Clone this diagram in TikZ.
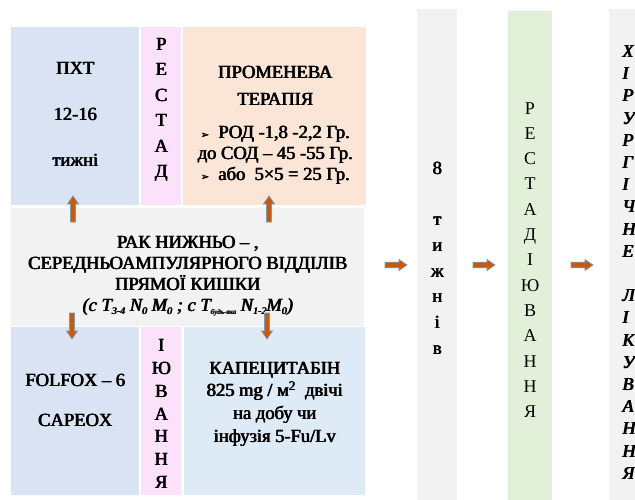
\documentclass[tikz,border=0pt]{standalone}
\usepackage{fontspec}
\setmainfont{Liberation Serif}
\newfontfamily\symfont{DejaVu Sans}
\definecolor{cblue}{HTML}{DAE3F3}
\definecolor{cpink}{HTML}{FCE1FB}
\definecolor{cpeach}{HTML}{FBE5D6}
\definecolor{cgray}{HTML}{F2F2F2}
\definecolor{clblue}{HTML}{DEEBF7}
\definecolor{cgreen}{HTML}{E2F0D9}
\definecolor{corange}{HTML}{C55A11}
\definecolor{cedge}{HTML}{8497B0}
% heavier strokes: the line is set three times with small offsets
\newcommand\bb[1]{\rlap{\hspace{0.8pt}#1}\rlap{\hspace{0.4pt}#1}#1}
\newcommand\bul{{\symfont\fontsize{10}{10}\selectfont ➢}}
\newcommand\sbx[1]{\raisebox{-3pt}{\fontsize{10}{10}\selectfont #1}}
\newcommand\sbxs[1]{\raisebox{-3pt}{\fontsize{7}{7}\selectfont #1}}
\tikzset{
  box/.style={inner sep=0pt, outer sep=0pt, draw=none, anchor=north west},
  tb/.style={inner sep=0pt, align=center, font=\fontsize{18.5}{#1}\selectfont},
  tr/.style={inner sep=0pt, align=center, font=\fontsize{18}{#1}\selectfont},
  harrow/.pic={\path[fill=corange, draw=cedge, line width=0.7pt]
     (0,-2.8)--(14,-2.8)--(14,-5.5)--(22,0)--(14,5.5)--(14,2.8)--(0,2.8)--cycle;},
  varrow/.pic={\path[fill=corange, draw=cedge, line width=0.7pt]
     (0,-2.5)--(18,-2.5)--(18,-5.5)--(26,0)--(18,5.5)--(18,2.5)--(0,2.5)--cycle;}
}
\begin{document}
\begin{tikzpicture}[x=1pt,y=-1pt]
\clip (0,0) rectangle (635,500);
\fill[white] (0,0) rectangle (635,500);
% boxes
\node[box, fill=cblue, minimum width=128pt, minimum height=178pt] (pxt) at (11,27) {};
\node[box, fill=cpink, minimum width=40pt, minimum height=178pt] (rest1) at (141,27) {};
\node[box, fill=cpeach, minimum width=183pt, minimum height=178pt] (ray) at (183,27) {};
\node[box, fill=cgray, minimum width=353pt, minimum height=118pt] (mid) at (11,208) {};
\node[box, fill=cblue, minimum width=128pt, minimum height=168pt] (folf) at (11,327) {};
\node[box, fill=cpink, minimum width=40pt, minimum height=168pt] (rest2) at (141,327) {};
\node[box, fill=clblue, minimum width=181pt, minimum height=168pt] (cap) at (184,327) {};
\node[box, fill=cgray, minimum width=40pt, minimum height=491pt] (weeks) at (417,9) {};
\node[box, fill=cgreen, minimum width=44pt, minimum height=489pt] (stag) at (508,11) {};
\node[box, fill=cgray, minimum width=40pt, minimum height=491pt] (surg) at (609,9) {};
% texts
\node[tb=46] (tpxt) at (75,114) {\bb{ПХТ}\\\bb{12-16}\\\bb{тижні}};
\node[tb=25.5] (trest1) at (161,110) {\bb{Р}\\\bb{Е}\\\bb{С}\\\bb{Т}\\\bb{А}\\\bb{Д}};
\node[tb=21] (tray) at (275,125.5) {\bb{ПРОМЕНЕВА}\\[6pt]\bb{ТЕРАПІЯ}\\[12pt]\bb{\bul\ \ РОД -1,8 -2,2 Гр.}\\\bb{до СОД – 45 -55 Гр.}\\\bb{\bul\ \ або \ 5×5 = 25 Гр.}};
\node[tb=21] (tmid) at (187.5,276) {\bb{РАК НИЖНЬО – ,}\\\bb{СЕРЕДНЬОАМПУЛЯРНОГО ВІДДІЛІВ}\\\bb{ПРЯМОЇ КИШКИ}\\\itshape\bb{(с Т\sbx{3-4} N\sbx{0} M\sbx{0} ; с Т\sbxs{будь-яка} N\sbx{1-2}M\sbx{0})}};
\node[tb=40] (tfolf) at (75,400) {\bb{FOLFOX – 6}\\\bb{CAPEOX}};
\node[tb=22.8] (trest2) at (161,414) {\bb{І}\\\bb{Ю}\\\bb{В}\\\bb{А}\\\bb{Н}\\\bb{Н}\\\bb{Я}};
\node[tb=22.7] (tcap) at (274.5,404) {\bb{КАПЕЦИТАБІН}\\\bb{825 mg / м\textsuperscript{2} \ двічі}\\\bb{на добу чи}\\\bb{інфузія 5-Fu/Lv}};
\node[tb=25.7] (tweeks) at (437,258) {\bb{8}\\\mbox{}\\\bb{т}\\\bb{и}\\\bb{ж}\\\bb{н}\\\bb{і}\\\bb{в}};
\node[tr=25.3] (tstag) at (530,260) {Р\\Е\\С\\Т\\А\\Д\\І\\Ю\\В\\А\\Н\\Н\\Я};
\node[inner sep=0pt, align=left, anchor=west, font=\fontsize{18}{22.2}\selectfont\itshape] (tsurg) at (622,262.5) {\bb{Х}\\\bb{І}\\\bb{Р}\\\bb{У}\\\bb{Р}\\\bb{Г}\\\bb{І}\\\bb{Ч}\\\bb{Н}\\\bb{Е}\\\mbox{}\\\bb{Л}\\\bb{І}\\\bb{К}\\\bb{У}\\\bb{В}\\\bb{А}\\\bb{Н}\\\bb{Н}\\\bb{Я}};
% arrow anchor coordinates
\coordinate (u1) at (73,222);
\coordinate (u2) at (269,222);
\coordinate (d1) at (72,313);
\coordinate (d2) at (267,313);
\coordinate (h1) at (385,265);
\coordinate (h2) at (473,265);
\coordinate (h3) at (571,265);
\pic[rotate=90] at (u1) {varrow};
\pic[rotate=90] at (u2) {varrow};
\pic[rotate=-90] at (d1) {varrow};
\pic[rotate=-90] at (d2) {varrow};
\pic at (h1) {harrow};
\pic at (h2) {harrow};
\pic at (h3) {harrow};
\end{tikzpicture}
\end{document}
